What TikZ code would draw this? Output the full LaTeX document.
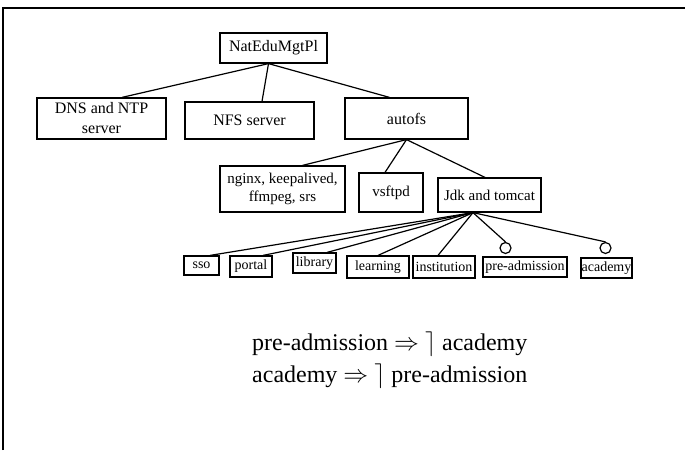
\documentclass[tikz,border=0pt]{standalone}
\usepackage{fontspec}
\setmainfont{Liberation Serif}
\usetikzlibrary{positioning}

\begin{document}
\begin{tikzpicture}[x=1pt, y=-1pt,
  every node/.style={font=\fontsize{16}{20}\selectfont},
  box/.style={draw, line width=1.2pt, rectangle, inner sep=0pt, align=center},
  mid/.style={box, font=\fontsize{15}{18}\selectfont},
  leaf/.style={box, font=\fontsize{14}{16}\selectfont},
  knob/.style={draw, line width=1.2pt, circle, inner sep=0pt, minimum size=11pt},
  rule/.style={anchor=base west, inner sep=0pt, font=\fontsize{24}{30}\selectfont},
  ln/.style={line width=1.2pt}]

\useasboundingbox (0,0) rectangle (685,450);

%% --- Frame ---
\draw[line width=1.5pt] (3,450) -- (3,8) -- (685,8);

%% --- Root and first level ---
\node[box, minimum width=107pt, minimum height=30pt] (ROOT)   at (273.5, 48)  {NatEduMgtPl};
\node[box, minimum width=129pt, minimum height=41pt] (DNS)    at (101.5,118.5) {DNS and NTP\\server};
\node[box, minimum width=129pt, minimum height=37pt] (NFS)    at (249.5,120.5) {NFS server};
\node[box, minimum width=123pt, minimum height=41pt] (AUTOFS) at (406.5,118.5) {autofs};

%% --- Second level ---
\node[mid, minimum width=125pt, minimum height=46pt] (NGINX)  at (282.5,189)   {nginx, keepalived,\\ffmpeg, srs};
\node[mid, minimum width=64pt,  minimum height=39pt] (FTP)    at (391,  192.5) {vsftpd};
\node[mid, minimum width=103pt, minimum height=34pt] (JDK)    at (489.5,195)   {Jdk and tomcat};

%% --- Leaves ---
\node[leaf, minimum width=35pt, minimum height=19pt] (SSO)   at (201.5,265.5) {sso};
\node[leaf, minimum width=42pt, minimum height=21pt] (PORT)  at (251,  266.5) {portal};
\node[leaf, minimum width=43pt, minimum height=20pt] (LIB)   at (314.5,263)   {library};
\node[leaf, minimum width=62pt, minimum height=22pt] (LEARN) at (378,  267)   {learning};
\node[leaf, minimum width=62pt, minimum height=22pt] (INST)  at (444,  267)   {institution};
\node[leaf, minimum width=84pt, minimum height=20pt] (PRE)   at (525,  267)   {pre-admission};
\node[leaf, minimum width=51pt, minimum height=20pt] (ACAD)  at (606.5,268)   {academy};
\node[knob] (PREK)  at (505.5,248) {};
\node[knob] (ACADK) at (605.5,248) {};

%% --- Connectors ---
\draw[ln] ([xshift=-5pt]ROOT.south) -- ([xshift=20.5pt]DNS.north);
\draw[ln] ([xshift=-5pt]ROOT.south) -- ([xshift=12.5pt]NFS.north);
\draw[ln] ([xshift=-5pt]ROOT.south) -- ([xshift=-17pt]AUTOFS.north);

\draw[ln] (AUTOFS.south) -- ([xshift=20pt]NGINX.north);
\draw[ln] (AUTOFS.south) -- ([xshift=-6pt]FTP.north);
\draw[ln] (AUTOFS.south) -- ([xshift=-4.5pt]JDK.north);

\draw[ln] ([xshift=-16.5pt]JDK.south) -- ([xshift=8.5pt]SSO.north);
\draw[ln] ([xshift=-16.5pt]JDK.south) -- ([xshift=12pt]PORT.north);
\draw[ln] ([xshift=-16.5pt]JDK.south) -- ([xshift=12.5pt]LIB.north);
\draw[ln] ([xshift=-16.5pt]JDK.south) -- (LEARN.north);
\draw[ln] ([xshift=-16.5pt]JDK.south) -- ([xshift=-6pt]INST.north);
\draw[ln] ([xshift=-16.5pt]JDK.south) -- (PREK.north);
\draw[ln] ([xshift=-16.5pt]JDK.south) -- (ACADK.north);

%% --- Constraints ---
\node[rule] (RULE1) at (252,350) {pre-admission $\Rightarrow$ $\rceil$ academy};
\node[rule] (RULE2) at (252,382) {academy $\Rightarrow$ $\rceil$ pre-admission};
\end{tikzpicture}
\end{document}
